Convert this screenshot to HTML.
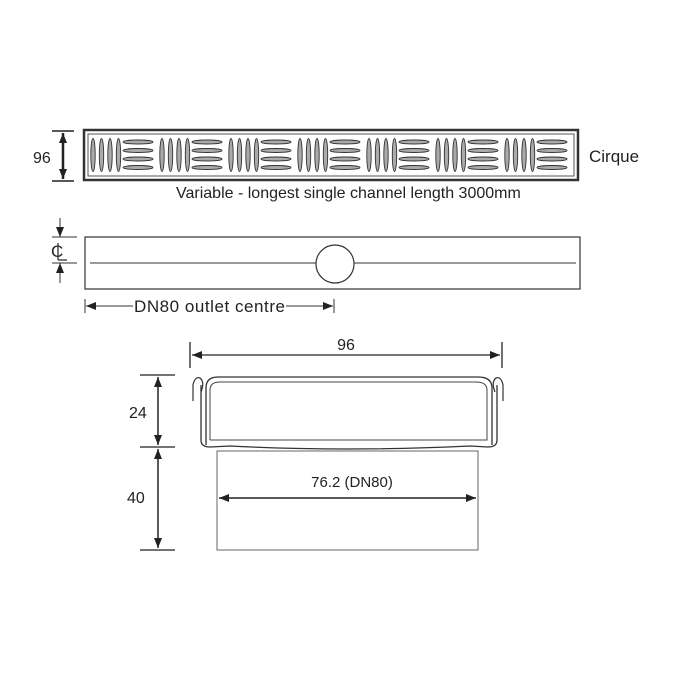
<!DOCTYPE html>
<html><head><meta charset="utf-8"><style>
html,body{margin:0;padding:0;background:#fff;}
svg{display:block;}
text{font-family:"Liberation Sans",sans-serif;fill:#222;}
</style></head><body>
<svg id="s" width="675" height="675" viewBox="0 0 675 675" xmlns="http://www.w3.org/2000/svg">
<defs>
<marker id="a" viewBox="0 0 10 10" refX="10" refY="5" markerWidth="10" markerHeight="10" markerUnits="userSpaceOnUse" orient="auto-start-reverse"><path d="M0,1 L10,5 L0,9 z" fill="#222"/></marker>
</defs>
<!-- grate -->
<line x1="52" y1="131" x2="74" y2="131" stroke="#222" stroke-width="1.5"/>
<line x1="52" y1="181" x2="74" y2="181" stroke="#222" stroke-width="1.5"/>
<line x1="63" y1="133" x2="63" y2="179" stroke="#222" stroke-width="2.5" marker-start="url(#a)" marker-end="url(#a)"/>
<text x="33" y="163" font-size="16">96</text>
<rect x="84" y="130" width="494" height="50" fill="#fff" stroke="#333" stroke-width="2.5"/>
<rect x="88" y="134" width="486" height="42" fill="#fff" stroke="#555" stroke-width="1"/>
<g id="g" fill="#aaa" stroke="#333" stroke-width="0.9"></g>
<text x="589" y="162" font-size="17">Cirque</text>
<text x="176" y="198" font-size="16">Variable - longest single channel length 3000mm</text>
<!-- channel plan -->
<rect x="85" y="237" width="495" height="52" fill="none" stroke="#333" stroke-width="1.2"/>
<line x1="90" y1="263" x2="576" y2="263" stroke="#333" stroke-width="1"/>
<circle cx="335" cy="264" r="19" fill="#fff" stroke="#333" stroke-width="1.2"/>
<line x1="52" y1="237" x2="77" y2="237" stroke="#333" stroke-width="1"/>
<line x1="52" y1="263" x2="77" y2="263" stroke="#333" stroke-width="1"/>
<line x1="60" y1="218" x2="60" y2="237" stroke="#333" stroke-width="1" marker-end="url(#a)"/>
<line x1="60" y1="283" x2="60" y2="263" stroke="#333" stroke-width="1" marker-end="url(#a)"/>
<text x="51" y="257" font-size="17">C</text>
<line x1="58" y1="243" x2="58" y2="260" stroke="#333" stroke-width="1.3"/>
<line x1="58" y1="260" x2="67" y2="260" stroke="#333" stroke-width="1.3"/>
<line x1="85" y1="299" x2="85" y2="313" stroke="#333" stroke-width="1"/>
<line x1="334" y1="299" x2="334" y2="313" stroke="#333" stroke-width="1"/>
<line x1="86" y1="306" x2="133" y2="306" stroke="#333" stroke-width="1" marker-start="url(#a)"/>
<line x1="286" y1="306" x2="333" y2="306" stroke="#333" stroke-width="1" marker-end="url(#a)"/>
<text x="134" y="312" font-size="17" textLength="151">DN80 outlet centre</text>
<!-- section -->
<line x1="190" y1="342" x2="190" y2="368" stroke="#222" stroke-width="1.3"/>
<line x1="502" y1="342" x2="502" y2="368" stroke="#222" stroke-width="1.3"/>
<line x1="192" y1="355" x2="500" y2="355" stroke="#222" stroke-width="1.3" marker-start="url(#a)" marker-end="url(#a)"/>
<text x="346" y="350" font-size="16" text-anchor="middle">96</text>
<line x1="140" y1="375" x2="175" y2="375" stroke="#222" stroke-width="1.3"/>
<line x1="140" y1="447" x2="175" y2="447" stroke="#222" stroke-width="1.3"/>
<line x1="140" y1="550" x2="175" y2="550" stroke="#222" stroke-width="1.3"/>
<line x1="158" y1="377" x2="158" y2="445" stroke="#222" stroke-width="1.5" marker-start="url(#a)" marker-end="url(#a)"/>
<line x1="158" y1="449" x2="158" y2="548" stroke="#222" stroke-width="1.5" marker-start="url(#a)" marker-end="url(#a)"/>
<text x="129" y="418" font-size="16">24</text>
<text x="127" y="503" font-size="16">40</text>
<rect x="217" y="451" width="261" height="99" fill="#fff" stroke="#666" stroke-width="1"/>
<path d="M201,385 L201,440 Q201,447 210,447 L230,446 Q346,452 470,446 L488,447 Q497,447 497,440 L497,385" fill="none" stroke="#333" stroke-width="1.3"/>
<path d="M206,445 L206,388 Q206,377 218,377 L478,377 Q492,377 492,388 L492,445" fill="none" stroke="#333" stroke-width="1.3"/>
<path d="M210,440 L210,390 Q210,382 220,382 L476,382 Q487,382 487,390 L487,440 L210,440" fill="none" stroke="#444" stroke-width="1"/>
<path d="M193,401 L193,385 Q195,376 200,378 Q205,382 201,392" fill="none" stroke="#333" stroke-width="1.2"/>
<path d="M503,401 L503,385 Q501,376 496,378 Q491,382 495,392" fill="none" stroke="#333" stroke-width="1.2"/>
<line x1="219" y1="498" x2="476" y2="498" stroke="#222" stroke-width="1.5" marker-start="url(#a)" marker-end="url(#a)"/>
<text x="352" y="487" font-size="15" text-anchor="middle">76.2 (DN80)</text>
</svg>
<script>
var g=document.getElementById('g'),ns='http://www.w3.org/2000/svg';
function e(cx,cy,rx,ry){var o=document.createElementNS(ns,'ellipse');o.setAttribute('cx',cx);o.setAttribute('cy',cy);o.setAttribute('rx',rx);o.setAttribute('ry',ry);g.appendChild(o);}
for(var k=0;k<7;k++){var x0=90+k*69;
for(var i=0;i<4;i++)e(x0+3+i*8.5,155,2.2,16.5);
if(x0+33+30<576)for(var j=0;j<4;j++)e(x0+48,142+j*8.5,15,2);}
</script>
</body></html>
